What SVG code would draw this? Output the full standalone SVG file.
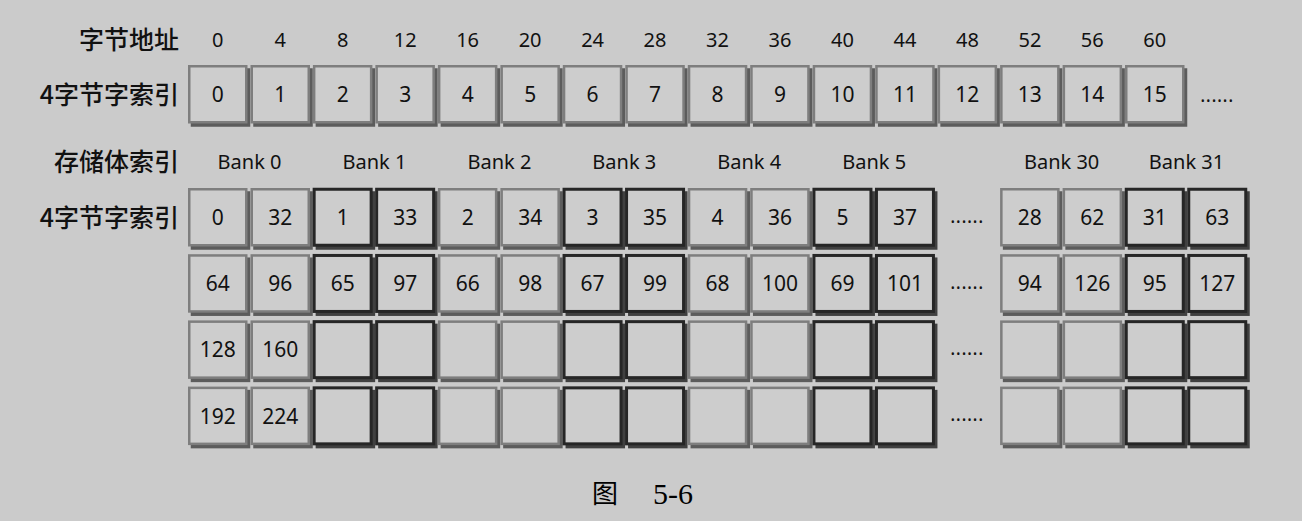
<svg xmlns="http://www.w3.org/2000/svg" xmlns:xlink="http://www.w3.org/1999/xlink" width="1302" height="521" viewBox="0 0 1302 521">
<style>
.bg{fill:#cbcbcb}
.lbl{font-family:"Noto Sans CJK SC","Noto Sans",sans-serif;font-size:25px;font-weight:500;fill:#111;text-anchor:end}
.num{font-family:"Noto Sans","Open Sans",sans-serif;font-size:21px;fill:#111;text-anchor:middle}
.hd{font-family:"Noto Sans","Open Sans",sans-serif;font-size:20px;fill:#111;text-anchor:middle}
.dots{font-family:"Noto Sans",sans-serif;font-size:19px;fill:#111;text-anchor:middle;letter-spacing:0.5px}
.cap{font-family:"Liberation Serif","Noto Sans CJK SC",serif;font-size:30px;fill:#000}
.capc{font-family:"Noto Sans CJK SC",serif;font-size:26px;fill:#000}
</style>
<defs>
<g id="bgray">
<rect x="4" y="4.5" width="57" height="56" fill="#5c5c5c" stroke="#5c5c5c" stroke-width="2.5"/>
<rect x="1.25" y="1.25" width="57" height="56" fill="#cdcdcd" stroke="#7e7e7e" stroke-width="2.5"/>
</g>
<g id="bdark">
<rect x="4" y="4.5" width="57" height="56" fill="#404040" stroke="#404040" stroke-width="2.5"/>
<rect x="1.25" y="1.25" width="57" height="56" fill="#cdcdcd" stroke="#262626" stroke-width="3"/>
</g>
</defs>
<rect class="bg" x="0" y="0" width="1302" height="521"/>

<g id="labels">
<text class="lbl" x="179" y="49">字节地址</text>
<text class="lbl" x="179" y="104">4字节字索引</text>
<text class="lbl" x="179" y="171">存储体索引</text>
<text class="lbl" x="179" y="227">4字节字索引</text>
</g>

<g id="addresses">
<text class="hd" x="217.8" y="47">0</text>
<text class="hd" x="280.2" y="47">4</text>
<text class="hd" x="342.7" y="47">8</text>
<text class="hd" x="405.2" y="47">12</text>
<text class="hd" x="467.6" y="47">16</text>
<text class="hd" x="530.1" y="47">20</text>
<text class="hd" x="592.6" y="47">24</text>
<text class="hd" x="655" y="47">28</text>
<text class="hd" x="717.5" y="47">32</text>
<text class="hd" x="780" y="47">36</text>
<text class="hd" x="842.5" y="47">40</text>
<text class="hd" x="904.9" y="47">44</text>
<text class="hd" x="967.4" y="47">48</text>
<text class="hd" x="1029.9" y="47">52</text>
<text class="hd" x="1092.3" y="47">56</text>
<text class="hd" x="1154.8" y="47">60</text>
</g>

<g id="top-row">
<g id="w0" transform="translate(188,65)"><use href="#bgray"/><text class="num" x="29.75" y="37">0</text></g>
<g id="w1" transform="translate(250.5,65)"><use href="#bgray"/><text class="num" x="29.75" y="37">1</text></g>
<g id="w2" transform="translate(312.9,65)"><use href="#bgray"/><text class="num" x="29.75" y="37">2</text></g>
<g id="w3" transform="translate(375.4,65)"><use href="#bgray"/><text class="num" x="29.75" y="37">3</text></g>
<g id="w4" transform="translate(437.9,65)"><use href="#bgray"/><text class="num" x="29.75" y="37">4</text></g>
<g id="w5" transform="translate(500.4,65)"><use href="#bgray"/><text class="num" x="29.75" y="37">5</text></g>
<g id="w6" transform="translate(562.8,65)"><use href="#bgray"/><text class="num" x="29.75" y="37">6</text></g>
<g id="w7" transform="translate(625.3,65)"><use href="#bgray"/><text class="num" x="29.75" y="37">7</text></g>
<g id="w8" transform="translate(687.8,65)"><use href="#bgray"/><text class="num" x="29.75" y="37">8</text></g>
<g id="w9" transform="translate(750.2,65)"><use href="#bgray"/><text class="num" x="29.75" y="37">9</text></g>
<g id="w10" transform="translate(812.7,65)"><use href="#bgray"/><text class="num" x="29.75" y="37">10</text></g>
<g id="w11" transform="translate(875.2,65)"><use href="#bgray"/><text class="num" x="29.75" y="37">11</text></g>
<g id="w12" transform="translate(937.6,65)"><use href="#bgray"/><text class="num" x="29.75" y="37">12</text></g>
<g id="w13" transform="translate(1000.1,65)"><use href="#bgray"/><text class="num" x="29.75" y="37">13</text></g>
<g id="w14" transform="translate(1062.6,65)"><use href="#bgray"/><text class="num" x="29.75" y="37">14</text></g>
<g id="w15" transform="translate(1125,65)"><use href="#bgray"/><text class="num" x="29.75" y="37">15</text></g>
<text class="dots" x="1217" y="102">......</text>
</g>

<g id="banks">
<text class="hd" x="249.5" y="169">Bank 0</text>
<text class="hd" x="374.4" y="169">Bank 1</text>
<text class="hd" x="499.4" y="169">Bank 2</text>
<text class="hd" x="624.3" y="169">Bank 3</text>
<text class="hd" x="749.2" y="169">Bank 4</text>
<text class="hd" x="874.2" y="169">Bank 5</text>
<text class="hd" x="1061.6" y="169">Bank 30</text>
<text class="hd" x="1186.5" y="169">Bank 31</text>
</g>

<g id="bank-grid">
<!-- row 1 -->
<g id="r1c0" transform="translate(188,188)"><use href="#bgray"/><text class="num" x="29.75" y="37">0</text></g>
<g id="r1c1" transform="translate(250.5,188)"><use href="#bgray"/><text class="num" x="29.75" y="37">32</text></g>
<g id="r1c2" transform="translate(312.9,188)"><use href="#bdark"/><text class="num" x="29.75" y="37">1</text></g>
<g id="r1c3" transform="translate(375.4,188)"><use href="#bdark"/><text class="num" x="29.75" y="37">33</text></g>
<g id="r1c4" transform="translate(437.9,188)"><use href="#bgray"/><text class="num" x="29.75" y="37">2</text></g>
<g id="r1c5" transform="translate(500.4,188)"><use href="#bgray"/><text class="num" x="29.75" y="37">34</text></g>
<g id="r1c6" transform="translate(562.8,188)"><use href="#bdark"/><text class="num" x="29.75" y="37">3</text></g>
<g id="r1c7" transform="translate(625.3,188)"><use href="#bdark"/><text class="num" x="29.75" y="37">35</text></g>
<g id="r1c8" transform="translate(687.8,188)"><use href="#bgray"/><text class="num" x="29.75" y="37">4</text></g>
<g id="r1c9" transform="translate(750.2,188)"><use href="#bgray"/><text class="num" x="29.75" y="37">36</text></g>
<g id="r1c10" transform="translate(812.7,188)"><use href="#bdark"/><text class="num" x="29.75" y="37">5</text></g>
<g id="r1c11" transform="translate(875.2,188)"><use href="#bdark"/><text class="num" x="29.75" y="37">37</text></g>
<g id="r1c13" transform="translate(1000.1,188)"><use href="#bgray"/><text class="num" x="29.75" y="37">28</text></g>
<g id="r1c14" transform="translate(1062.6,188)"><use href="#bgray"/><text class="num" x="29.75" y="37">62</text></g>
<g id="r1c15" transform="translate(1125,188)"><use href="#bdark"/><text class="num" x="29.75" y="37">31</text></g>
<g id="r1c16" transform="translate(1187.5,188)"><use href="#bdark"/><text class="num" x="29.75" y="37">63</text></g>
<text class="dots" x="967" y="223">......</text>
<!-- row 2 -->
<g id="r2c0" transform="translate(188,254.2)"><use href="#bgray"/><text class="num" x="29.75" y="37">64</text></g>
<g id="r2c1" transform="translate(250.5,254.2)"><use href="#bgray"/><text class="num" x="29.75" y="37">96</text></g>
<g id="r2c2" transform="translate(312.9,254.2)"><use href="#bdark"/><text class="num" x="29.75" y="37">65</text></g>
<g id="r2c3" transform="translate(375.4,254.2)"><use href="#bdark"/><text class="num" x="29.75" y="37">97</text></g>
<g id="r2c4" transform="translate(437.9,254.2)"><use href="#bgray"/><text class="num" x="29.75" y="37">66</text></g>
<g id="r2c5" transform="translate(500.4,254.2)"><use href="#bgray"/><text class="num" x="29.75" y="37">98</text></g>
<g id="r2c6" transform="translate(562.8,254.2)"><use href="#bdark"/><text class="num" x="29.75" y="37">67</text></g>
<g id="r2c7" transform="translate(625.3,254.2)"><use href="#bdark"/><text class="num" x="29.75" y="37">99</text></g>
<g id="r2c8" transform="translate(687.8,254.2)"><use href="#bgray"/><text class="num" x="29.75" y="37">68</text></g>
<g id="r2c9" transform="translate(750.2,254.2)"><use href="#bgray"/><text class="num" x="29.75" y="37">100</text></g>
<g id="r2c10" transform="translate(812.7,254.2)"><use href="#bdark"/><text class="num" x="29.75" y="37">69</text></g>
<g id="r2c11" transform="translate(875.2,254.2)"><use href="#bdark"/><text class="num" x="29.75" y="37">101</text></g>
<g id="r2c13" transform="translate(1000.1,254.2)"><use href="#bgray"/><text class="num" x="29.75" y="37">94</text></g>
<g id="r2c14" transform="translate(1062.6,254.2)"><use href="#bgray"/><text class="num" x="29.75" y="37">126</text></g>
<g id="r2c15" transform="translate(1125,254.2)"><use href="#bdark"/><text class="num" x="29.75" y="37">95</text></g>
<g id="r2c16" transform="translate(1187.5,254.2)"><use href="#bdark"/><text class="num" x="29.75" y="37">127</text></g>
<text class="dots" x="967" y="289">......</text>
<!-- row 3 -->
<g id="r3c0" transform="translate(188,320.4)"><use href="#bgray"/><text class="num" x="29.75" y="37">128</text></g>
<g id="r3c1" transform="translate(250.5,320.4)"><use href="#bgray"/><text class="num" x="29.75" y="37">160</text></g>
<g id="r3c2" transform="translate(312.9,320.4)"><use href="#bdark"/></g>
<g id="r3c3" transform="translate(375.4,320.4)"><use href="#bdark"/></g>
<g id="r3c4" transform="translate(437.9,320.4)"><use href="#bgray"/></g>
<g id="r3c5" transform="translate(500.4,320.4)"><use href="#bgray"/></g>
<g id="r3c6" transform="translate(562.8,320.4)"><use href="#bdark"/></g>
<g id="r3c7" transform="translate(625.3,320.4)"><use href="#bdark"/></g>
<g id="r3c8" transform="translate(687.8,320.4)"><use href="#bgray"/></g>
<g id="r3c9" transform="translate(750.2,320.4)"><use href="#bgray"/></g>
<g id="r3c10" transform="translate(812.7,320.4)"><use href="#bdark"/></g>
<g id="r3c11" transform="translate(875.2,320.4)"><use href="#bdark"/></g>
<g id="r3c13" transform="translate(1000.1,320.4)"><use href="#bgray"/></g>
<g id="r3c14" transform="translate(1062.6,320.4)"><use href="#bgray"/></g>
<g id="r3c15" transform="translate(1125,320.4)"><use href="#bdark"/></g>
<g id="r3c16" transform="translate(1187.5,320.4)"><use href="#bdark"/></g>
<text class="dots" x="967" y="355">......</text>
<!-- row 4 -->
<g id="r4c0" transform="translate(188,386.6)"><use href="#bgray"/><text class="num" x="29.75" y="37">192</text></g>
<g id="r4c1" transform="translate(250.5,386.6)"><use href="#bgray"/><text class="num" x="29.75" y="37">224</text></g>
<g id="r4c2" transform="translate(312.9,386.6)"><use href="#bdark"/></g>
<g id="r4c3" transform="translate(375.4,386.6)"><use href="#bdark"/></g>
<g id="r4c4" transform="translate(437.9,386.6)"><use href="#bgray"/></g>
<g id="r4c5" transform="translate(500.4,386.6)"><use href="#bgray"/></g>
<g id="r4c6" transform="translate(562.8,386.6)"><use href="#bdark"/></g>
<g id="r4c7" transform="translate(625.3,386.6)"><use href="#bdark"/></g>
<g id="r4c8" transform="translate(687.8,386.6)"><use href="#bgray"/></g>
<g id="r4c9" transform="translate(750.2,386.6)"><use href="#bgray"/></g>
<g id="r4c10" transform="translate(812.7,386.6)"><use href="#bdark"/></g>
<g id="r4c11" transform="translate(875.2,386.6)"><use href="#bdark"/></g>
<g id="r4c13" transform="translate(1000.1,386.6)"><use href="#bgray"/></g>
<g id="r4c14" transform="translate(1062.6,386.6)"><use href="#bgray"/></g>
<g id="r4c15" transform="translate(1125,386.6)"><use href="#bdark"/></g>
<g id="r4c16" transform="translate(1187.5,386.6)"><use href="#bdark"/></g>
<text class="dots" x="967" y="421">......</text>
</g>

<g id="caption">
<text class="capc" x="592" y="503">图</text>
<text class="cap" x="653" y="504">5-6</text>
</g>
<g id="connectors"/>
</svg>
